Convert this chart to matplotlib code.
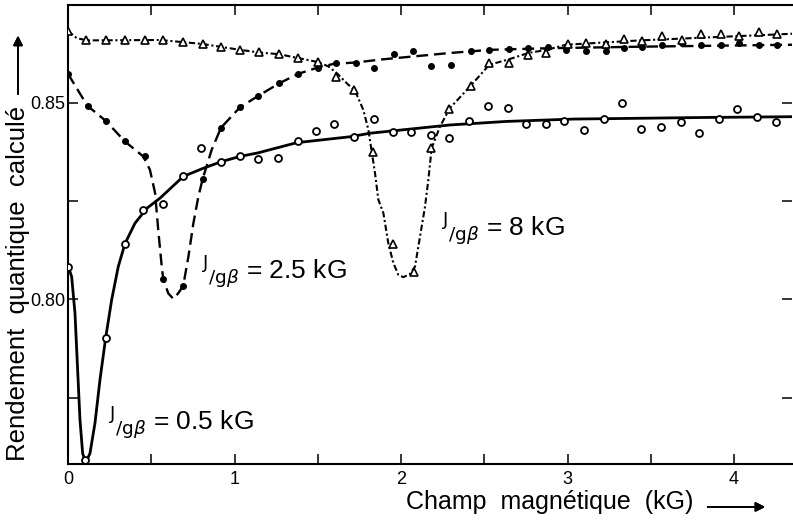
import numpy as np
import matplotlib.pyplot as plt

plt.rcParams['font.family'] = ['Liberation Sans', 'DejaVu Sans']
plt.rcParams['mathtext.fontset'] = 'dejavusans'

# Points calculés (champ en kG, rendement quantique)
x_05 = [0, 0.10, 0.23, 0.34, 0.45, 0.57, 0.69, 0.80, 0.92, 1.03, 1.14, 1.26, 1.38,
        1.49, 1.60, 1.72, 1.84, 1.95, 2.06, 2.18, 2.29, 2.41, 2.52, 2.64, 2.75, 2.87,
        2.98, 3.10, 3.22, 3.33, 3.44, 3.56, 3.68, 3.79, 3.91, 4.02, 4.14, 4.25]
y_05 = [0.8083, 0.7591, 0.7901, 0.8141, 0.8227, 0.8242, 0.8314, 0.8384, 0.8348, 0.8363,
        0.8356, 0.8359, 0.8401, 0.8428, 0.8445, 0.8413, 0.8458, 0.8425, 0.8425, 0.8418,
        0.8409, 0.8452, 0.8490, 0.8486, 0.8445, 0.8445, 0.8452, 0.8429, 0.8459, 0.8498,
        0.8432, 0.8437, 0.8450, 0.8422, 0.8458, 0.8483, 0.8464, 0.8450]

x_25 = [0, 0.12, 0.23, 0.34, 0.46, 0.57, 0.69, 0.81, 0.92, 1.03, 1.14, 1.27, 1.38,
        1.50, 1.61, 1.73, 1.84, 1.96, 2.07, 2.18, 2.30, 2.42, 2.53, 2.65, 2.76, 2.88,
        2.99, 3.11, 3.23, 3.34, 3.45, 3.57, 3.69, 3.80, 3.92, 4.03, 4.15, 4.26]
y_25 = [0.8573, 0.8492, 0.8453, 0.8401, 0.8363, 0.8052, 0.8034, 0.8306, 0.8436, 0.8488,
        0.8517, 0.8549, 0.8573, 0.8589, 0.8600, 0.8600, 0.8589, 0.8623, 0.8630, 0.8593,
        0.8596, 0.8631, 0.8634, 0.8636, 0.8638, 0.8640, 0.8634, 0.8630, 0.8632, 0.8638,
        0.8641, 0.8647, 0.8651, 0.8647, 0.8647, 0.8651, 0.8647, 0.8647]

x_8 = [0, 0.11, 0.23, 0.34, 0.46, 0.57, 0.69, 0.81, 0.92, 1.03, 1.15, 1.27, 1.38,
       1.50, 1.61, 1.72, 1.83, 1.95, 2.08, 2.18, 2.29, 2.42, 2.53, 2.65, 2.76, 2.87,
       3.00, 3.11, 3.23, 3.34, 3.45, 3.57, 3.69, 3.80, 3.92, 4.03, 4.15, 4.26]
y_8 = [0.8682, 0.8658, 0.8658, 0.8659, 0.8658, 0.8659, 0.8654, 0.8649, 0.8640, 0.8634,
       0.8628, 0.8623, 0.8613, 0.8603, 0.8564, 0.8531, 0.8375, 0.8141, 0.8069, 0.8384,
       0.8483, 0.8543, 0.8600, 0.8600, 0.8621, 0.8627, 0.8649, 0.8651, 0.8649, 0.8661,
       0.8657, 0.8668, 0.8659, 0.8675, 0.8673, 0.8670, 0.8679, 0.8675]

# Courbes tracées
cx_05 = [0, 0.022, 0.042, 0.056, 0.072, 0.088, 0.106, 0.132, 0.162, 0.192, 0.226, 0.262,
         0.302, 0.342, 0.402, 0.473, 0.553, 0.692, 0.813, 0.923, 1.033, 1.141, 1.374,
         1.694, 1.814, 2.294, 2.635, 3.035, 3.435, 3.814, 4.354]
cy_05 = [0.8085, 0.8057, 0.7964, 0.7837, 0.7693, 0.7608, 0.7584, 0.7608, 0.7685, 0.7795,
         0.7901, 0.7998, 0.8083, 0.8141, 0.8193, 0.8231, 0.8257, 0.8312, 0.8333, 0.8350,
         0.8363, 0.8372, 0.8398, 0.8413, 0.8422, 0.8443, 0.8452, 0.8458, 0.8460, 0.8462,
         0.8464]

cx_25 = [0, 0.116, 0.228, 0.342, 0.452, 0.492, 0.523, 0.542, 0.563, 0.572, 0.602, 0.632,
         0.662, 0.692, 0.723, 0.753, 0.783, 0.809, 0.863, 0.919, 1.033, 1.143, 1.269,
         1.383, 1.500, 1.593, 1.730, 1.894, 2.294, 2.535, 2.879, 3.435, 4.354]
cy_25 = [0.8573, 0.8492, 0.8453, 0.8401, 0.8363, 0.8329, 0.8270, 0.8176, 0.8083, 0.8052,
         0.8015, 0.8001, 0.8015, 0.8034, 0.8108, 0.8193, 0.8261, 0.8306, 0.8380, 0.8436,
         0.8488, 0.8517, 0.8549, 0.8573, 0.8589, 0.8598, 0.8602, 0.8610, 0.8626, 0.8634,
         0.8638, 0.8642, 0.8647]

cx_8 = [0, 0.052, 0.112, 0.553, 0.807, 1.033, 1.153, 1.267, 1.383, 1.500, 1.563, 1.614,
        1.674, 1.724, 1.774, 1.804, 1.824, 1.844, 1.864, 1.894, 1.924, 1.954, 1.984,
        2.014, 2.054, 2.084, 2.114, 2.144, 2.164, 2.184, 2.234, 2.294, 2.419, 2.530,
        2.649, 2.765, 2.875, 2.991, 3.435, 4.354]
cy_8 = [0.8682, 0.8664, 0.8658, 0.8659, 0.8649, 0.8634, 0.8627, 0.8623, 0.8613, 0.8603,
        0.8592, 0.8575, 0.8549, 0.8530, 0.8481, 0.8431, 0.8375, 0.8320, 0.8253, 0.8219,
        0.8142, 0.8092, 0.8062, 0.8056, 0.8064, 0.8083, 0.8159, 0.8235, 0.8303, 0.8384,
        0.8439, 0.8486, 0.8543, 0.8596, 0.8610, 0.8626, 0.8634, 0.8647, 0.8658, 0.8675]

fig = plt.figure(figsize=(7.93, 5.21), dpi=100)
ax = fig.add_axes([68 / 793, 57 / 521, 724.3 / 793, 459 / 521])

ax.plot(cx_05, cy_05, '-', color='black', lw=2.0)
ax.plot(cx_25, cy_25, color='black', lw=1.7, linestyle=(0, (5, 2.5)))
ax.plot(cx_8, cy_8, color='black', lw=1.5, linestyle=(0, (3, 1.3, 1, 1.3)))

ax.plot(x_05, y_05, 'o', mfc='white', mec='black', mew=1.3, ms=5, zorder=5)
ax.plot(x_25, y_25, 'o', color='black', ms=4, zorder=5)
ax.plot(x_8, y_8, '^', mfc='white', mec='black', mew=1.2, ms=6, zorder=5)

ax.set_xlim(0, 4.35)
ax.set_ylim(0.7581, 0.8748)
ax.set_xticks(np.arange(0, 4.1, 0.5))
ax.set_xticklabels(['0', '', '1', '', '2', '', '3', '', '4'])
ax.set_yticks([0.775, 0.80, 0.825, 0.85])
ax.set_yticklabels(['', '0.80', '', '0.85'])
ax.tick_params(direction='in', length=7, width=1.1, top=True, right=True, labelsize=13)
ax.tick_params(axis='y', pad=2)
ax.tick_params(axis='x', pad=5)
ax.spines['right'].set_visible(False)
for s in ['left', 'bottom', 'top']:
    ax.spines[s].set_linewidth(1.5)

lab = r'$^{\mathrm{J}}{}_{\mathrm{/g}\beta}$'
ax.text(0.24, 0.7668, lab + ' = 0.5 kG', fontsize=19)
ax.text(0.80, 0.8052, lab + ' = 2.5 kG', fontsize=19)
ax.text(2.24, 0.8162, lab + ' = 8 kG', fontsize=19)

fig.text(0.6936, 0.037, 'Champ  magnétique  (kG)', fontsize=18, ha='center', va='center')
fig.text(0.0227, 0.456, 'Rendement  quantique  calculé', fontsize=18.5,
         rotation=90, ha='center', va='center')
fig.add_artist(plt.annotate('', xy=(0.9685, 0.027), xytext=(0.889, 0.027),
                            xycoords='figure fraction',
                            arrowprops=dict(arrowstyle='-|>', color='black', lw=1.3,
                                            mutation_scale=14)))
fig.add_artist(plt.annotate('', xy=(0.0227, 0.937), xytext=(0.0227, 0.814),
                            xycoords='figure fraction',
                            arrowprops=dict(arrowstyle='-|>', color='black', lw=1.3,
                                            mutation_scale=14)))

plt.savefig('out.png', dpi=100)
